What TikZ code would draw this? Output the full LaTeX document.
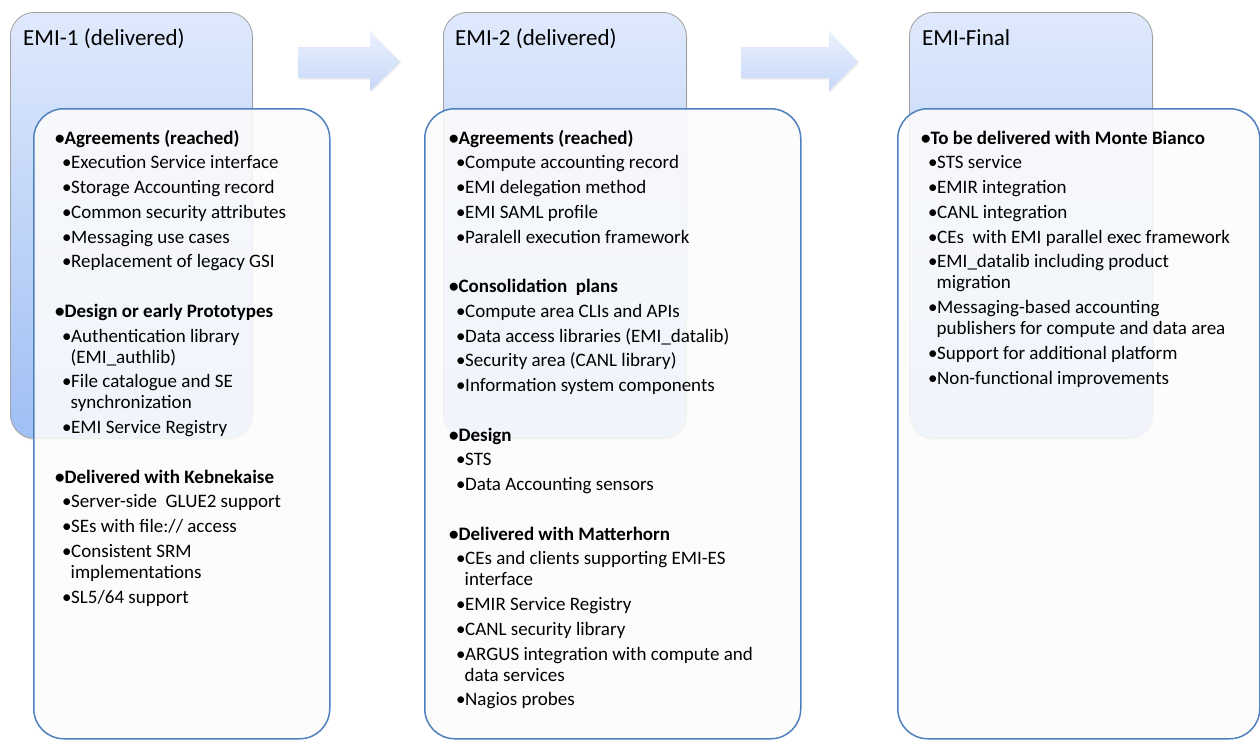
\documentclass[tikz,border=0pt]{standalone}
\usepackage{fontspec}
\setmainfont{Carlito}
\usetikzlibrary{shadows}
\definecolor{frameblue}{HTML}{4F81BD}
\definecolor{backtop}{HTML}{DFE9FC}
\definecolor{backbot}{HTML}{A0BFF4}
\definecolor{backborder}{HTML}{A0A0A0}
\definecolor{frontfill}{HTML}{FCFCFC}
\definecolor{arrtop}{HTML}{EBF1FD}
\definecolor{arrbot}{HTML}{C6D8F8}
\newcommand\bitem{\hspace*{7pt}\makebox[9pt][l]{•}}
\newcommand\bcont{\hspace*{15.5pt}}
\newcommand\secthead[1]{\textbf{•#1}}
\begin{document}
\begin{tikzpicture}[x=1pt,y=-1pt,
  backbox/.style={draw=backborder, line width=0.8pt, rounded corners=24pt,
    top color=backtop, bottom color=backbot, anchor=north west, inner sep=0pt,
    drop shadow={opacity=0.18, shadow xshift=1pt, shadow yshift=-2pt}},
  frontbox/.style={draw=frameblue, line width=1.5pt, rounded corners=30pt,
    fill=frontfill, fill opacity=0.88, anchor=north west, inner sep=0pt},
  headtext/.style={anchor=base west, inner sep=0pt, font=\fontsize{23}{27}\selectfont},
  listtext/.style={anchor=north west, inner sep=0pt, align=left, font=\fontsize{19}{21}\selectfont},
  blockarrow/.style={top color=arrtop, bottom color=arrbot, draw=none,
    drop shadow={opacity=0.15, shadow xshift=1pt, shadow yshift=-1.5pt}}
]
\fill[white] (0,0) rectangle (1260,740);
\useasboundingbox (0,0) rectangle (1260,740);

% ---------- EMI-1 ----------
\node[backbox, minimum width=242pt, minimum height=426pt] (back1) at (10,12) {};
\node[headtext] (head1) at (23,45) {EMI-1 (delivered)};
\node[frontbox, minimum width=296pt, minimum height=630pt] (front1) at (33,108) {};
\node[listtext] (list1) at (55,129.3) {%
\secthead{Agreements (reached)}\strut\\[3.75pt]
\bitem Execution Service interface\\[3.75pt]
\bitem Storage Accounting record\\[3.75pt]
\bitem Common security attributes\\[3.75pt]
\bitem Messaging use cases\\[3.75pt]
\bitem Replacement of legacy GSI\\[28.5pt]
\secthead{Design or early Prototypes}\\[3.75pt]
\bitem Authentication library\\
\bcont (EMI\_authlib)\\[3.75pt]
\bitem File catalogue and SE\\
\bcont synchronization\\[3.75pt]
\bitem EMI Service Registry\\[28.5pt]
\secthead{Delivered with Kebnekaise}\\[3.75pt]
\bitem Server-side\ \ GLUE2 support\\[3.75pt]
\bitem SEs with file:// access\\[3.75pt]
\bitem Consistent SRM\\
\bcont implementations\\[3.75pt]
\bitem SL5/64 support};

% ---------- EMI-2 ----------
\node[backbox, minimum width=243pt, minimum height=426pt] (back2) at (443,12) {};
\node[headtext] (head2) at (455,45) {EMI-2 (delivered)};
\node[frontbox, minimum width=376pt, minimum height=630pt] (front2) at (424,108) {};
\node[listtext] (list2) at (449,129.3) {%
\secthead{Agreements (reached)}\strut\\[3.75pt]
\bitem Compute accounting record\\[3.75pt]
\bitem EMI delegation method\\[3.75pt]
\bitem EMI SAML profile\\[3.75pt]
\bitem Paralell execution framework\\[28.5pt]
\secthead{Consolidation\ \ plans}\\[3.75pt]
\bitem Compute area CLIs and APIs\\[3.75pt]
\bitem Data access libraries (EMI\_datalib)\\[3.75pt]
\bitem Security area (CANL library)\\[3.75pt]
\bitem Information system components\\[28.5pt]
\secthead{Design}\\[3.75pt]
\bitem STS\\[3.75pt]
\bitem Data Accounting sensors\\[28.5pt]
\secthead{Delivered with Matterhorn}\\[3.75pt]
\bitem CEs and clients supporting EMI-ES\\
\bcont interface\\[3.75pt]
\bitem EMIR Service Registry\\[3.75pt]
\bitem CANL security library\\[3.75pt]
\bitem ARGUS integration with compute and\\
\bcont data services\\[3.75pt]
\bitem Nagios probes};

% ---------- EMI-Final ----------
\node[backbox, minimum width=243pt, minimum height=426pt] (back3) at (909,12) {};
\node[headtext] (head3) at (922,45) {EMI-Final};
\node[frontbox, minimum width=362pt, minimum height=630pt] (front3) at (897,108) {};
\node[listtext] (list3) at (921,129.3) {%
\secthead{To be delivered with Monte Bianco}\strut\\[3.75pt]
\bitem STS service\\[3.75pt]
\bitem EMIR integration\\[3.75pt]
\bitem CANL integration\\[3.75pt]
\bitem CEs\ \ with EMI parallel exec framework\\[3.75pt]
\bitem EMI\_datalib including product\\
\bcont migration\\[3.75pt]
\bitem Messaging-based accounting\\
\bcont publishers for compute and data area\\[3.75pt]
\bitem Support for additional platform\\[3.75pt]
\bitem Non-functional improvements};

% ---------- block arrows ----------
\path[blockarrow] (298,47) -- (370,47) -- (370,31) -- (400,61.5) -- (370,91) -- (370,78) -- (298,78) -- cycle;
\path[blockarrow] (741,47) -- (829,47) -- (829,31) -- (858,61.5) -- (829,91) -- (829,78) -- (741,78) -- cycle;
\end{tikzpicture}
\end{document}
